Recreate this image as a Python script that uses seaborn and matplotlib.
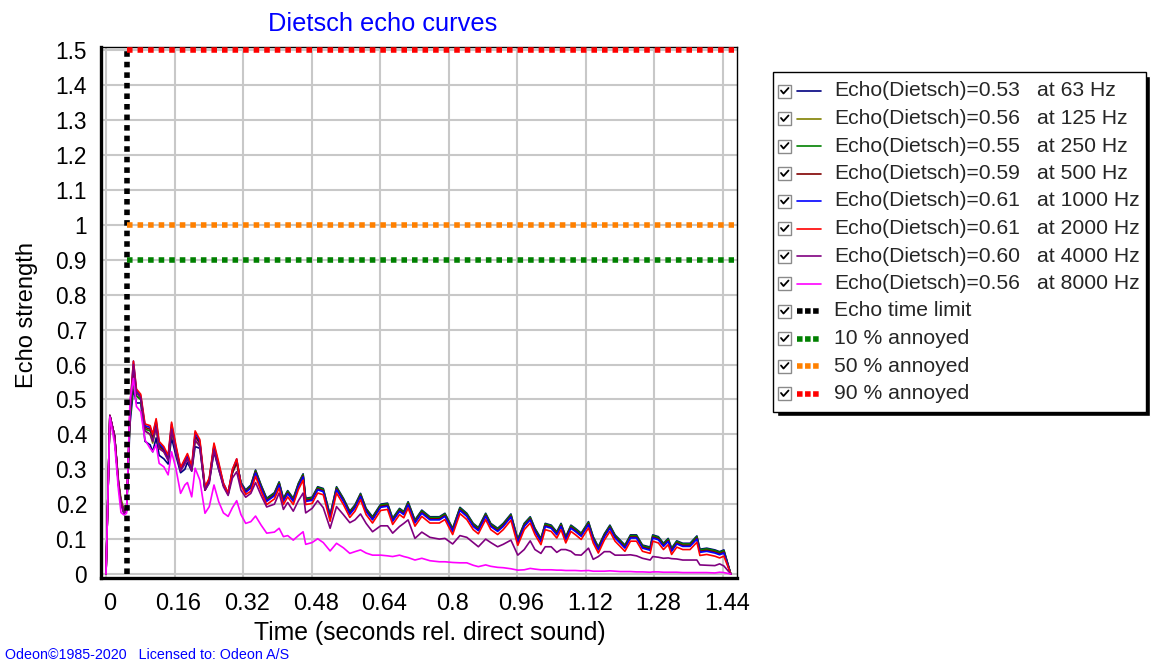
import matplotlib
matplotlib.use("Agg")
import matplotlib.pyplot as plt
import matplotlib.transforms as mtransforms
import pandas as pd
import seaborn as sns
from matplotlib.patches import Rectangle
from matplotlib.ticker import MultipleLocator

# Time axis (seconds rel. direct sound), shared by all eight octave-band curves
TIME = [0.000, 0.009, 0.020, 0.029, 0.035, 0.042, 0.048, 0.056, 0.064, 0.071,
        0.081, 0.091, 0.103, 0.109, 0.117, 0.124, 0.135, 0.145, 0.153, 0.163,
        0.174, 0.184, 0.190, 0.200, 0.208, 0.219, 0.231, 0.241, 0.252, 0.263,
        0.274, 0.285, 0.295, 0.305, 0.315, 0.326, 0.338, 0.349, 0.362, 0.375,
        0.393, 0.404, 0.414, 0.424, 0.437, 0.449, 0.460, 0.466, 0.481, 0.494,
        0.507, 0.523, 0.538, 0.554, 0.569, 0.581, 0.594, 0.607, 0.622, 0.641,
        0.657, 0.669, 0.685, 0.695, 0.705, 0.721, 0.737, 0.756, 0.778, 0.791,
        0.809, 0.826, 0.842, 0.857, 0.869, 0.886, 0.898, 0.914, 0.927, 0.945,
        0.961, 0.976, 0.990, 1.001, 1.015, 1.025, 1.039, 1.052, 1.062, 1.073,
        1.085, 1.095, 1.109, 1.126, 1.137, 1.149, 1.163, 1.176, 1.188, 1.200,
        1.211, 1.224, 1.238, 1.252, 1.270, 1.276, 1.289, 1.301, 1.312, 1.320,
        1.332, 1.346, 1.363, 1.379, 1.386, 1.402, 1.421, 1.432, 1.442, 1.458]

ECHO_63 = [0.000, 0.454, 0.395, 0.255, 0.200, 0.172, 0.180, 0.430, 0.530, 0.490,
           0.490, 0.380, 0.370, 0.350, 0.390, 0.340, 0.330, 0.315, 0.390, 0.340,
           0.290, 0.300, 0.320, 0.295, 0.365, 0.360, 0.240, 0.265, 0.350, 0.300,
           0.255, 0.230, 0.290, 0.320, 0.262, 0.241, 0.255, 0.298, 0.255, 0.217,
           0.233, 0.264, 0.217, 0.239, 0.217, 0.260, 0.287, 0.217, 0.220, 0.250,
           0.245, 0.169, 0.250, 0.217, 0.180, 0.198, 0.231, 0.188, 0.164, 0.200,
           0.203, 0.160, 0.188, 0.179, 0.207, 0.155, 0.183, 0.164, 0.164, 0.174,
           0.131, 0.191, 0.174, 0.145, 0.133, 0.174, 0.145, 0.131, 0.145, 0.172,
           0.100, 0.145, 0.164, 0.131, 0.102, 0.145, 0.140, 0.121, 0.145, 0.107,
           0.140, 0.131, 0.117, 0.150, 0.107, 0.078, 0.115, 0.140, 0.112, 0.097,
           0.083, 0.112, 0.112, 0.083, 0.077, 0.112, 0.107, 0.088, 0.102, 0.074,
           0.095, 0.088, 0.088, 0.109, 0.071, 0.074, 0.069, 0.064, 0.069, 0.000]

ECHO_125 = [0.000, 0.454, 0.395, 0.270, 0.215, 0.185, 0.185, 0.450, 0.560, 0.510,
            0.500, 0.410, 0.400, 0.375, 0.420, 0.360, 0.350, 0.330, 0.410, 0.355,
            0.300, 0.320, 0.330, 0.300, 0.380, 0.370, 0.245, 0.270, 0.360, 0.310,
            0.255, 0.230, 0.290, 0.320, 0.260, 0.238, 0.250, 0.293, 0.250, 0.212,
            0.228, 0.259, 0.212, 0.234, 0.212, 0.255, 0.282, 0.212, 0.215, 0.245,
            0.240, 0.164, 0.245, 0.212, 0.175, 0.193, 0.226, 0.183, 0.159, 0.195,
            0.198, 0.155, 0.183, 0.174, 0.202, 0.150, 0.178, 0.159, 0.159, 0.169,
            0.126, 0.186, 0.169, 0.140, 0.128, 0.169, 0.140, 0.126, 0.140, 0.167,
            0.095, 0.140, 0.159, 0.126, 0.097, 0.140, 0.135, 0.116, 0.140, 0.102,
            0.135, 0.126, 0.112, 0.145, 0.102, 0.073, 0.110, 0.135, 0.107, 0.092,
            0.078, 0.107, 0.107, 0.078, 0.072, 0.107, 0.102, 0.083, 0.097, 0.069,
            0.090, 0.083, 0.083, 0.104, 0.066, 0.069, 0.064, 0.059, 0.064, 0.000]

ECHO_250 = [0.000, 0.454, 0.395, 0.262, 0.207, 0.178, 0.183, 0.450, 0.550, 0.510,
            0.500, 0.415, 0.410, 0.390, 0.430, 0.365, 0.355, 0.330, 0.420, 0.360,
            0.300, 0.320, 0.335, 0.300, 0.395, 0.375, 0.245, 0.270, 0.365, 0.310,
            0.255, 0.230, 0.295, 0.325, 0.260, 0.238, 0.253, 0.296, 0.253, 0.215,
            0.231, 0.262, 0.215, 0.237, 0.215, 0.258, 0.285, 0.215, 0.218, 0.248,
            0.243, 0.167, 0.248, 0.215, 0.178, 0.196, 0.229, 0.186, 0.162, 0.198,
            0.201, 0.158, 0.186, 0.177, 0.205, 0.153, 0.181, 0.162, 0.162, 0.172,
            0.129, 0.189, 0.172, 0.143, 0.131, 0.172, 0.143, 0.129, 0.143, 0.170,
            0.098, 0.143, 0.162, 0.129, 0.100, 0.143, 0.138, 0.119, 0.143, 0.105,
            0.138, 0.129, 0.115, 0.148, 0.105, 0.076, 0.113, 0.138, 0.110, 0.095,
            0.081, 0.110, 0.110, 0.081, 0.075, 0.110, 0.105, 0.086, 0.100, 0.072,
            0.093, 0.086, 0.086, 0.107, 0.069, 0.072, 0.067, 0.062, 0.067, 0.000]

ECHO_500 = [0.000, 0.454, 0.395, 0.260, 0.205, 0.176, 0.183, 0.460, 0.590, 0.520,
            0.505, 0.420, 0.415, 0.395, 0.435, 0.370, 0.355, 0.330, 0.420, 0.360,
            0.300, 0.320, 0.335, 0.300, 0.395, 0.375, 0.240, 0.268, 0.365, 0.310,
            0.255, 0.228, 0.290, 0.320, 0.258, 0.236, 0.249, 0.292, 0.249, 0.211,
            0.227, 0.258, 0.211, 0.233, 0.211, 0.254, 0.281, 0.211, 0.214, 0.244,
            0.239, 0.163, 0.244, 0.211, 0.174, 0.192, 0.225, 0.182, 0.158, 0.194,
            0.197, 0.154, 0.182, 0.173, 0.201, 0.149, 0.177, 0.158, 0.158, 0.168,
            0.125, 0.185, 0.168, 0.139, 0.127, 0.168, 0.139, 0.125, 0.139, 0.166,
            0.094, 0.139, 0.158, 0.125, 0.096, 0.139, 0.134, 0.115, 0.139, 0.101,
            0.134, 0.125, 0.111, 0.144, 0.101, 0.072, 0.109, 0.134, 0.106, 0.091,
            0.077, 0.106, 0.106, 0.077, 0.071, 0.106, 0.101, 0.082, 0.096, 0.068,
            0.089, 0.082, 0.082, 0.103, 0.065, 0.068, 0.063, 0.058, 0.063, 0.000]

ECHO_1000 = [0.000, 0.454, 0.395, 0.260, 0.205, 0.176, 0.183, 0.470, 0.610, 0.525,
             0.510, 0.425, 0.420, 0.400, 0.440, 0.374, 0.360, 0.336, 0.430, 0.365,
             0.303, 0.327, 0.340, 0.305, 0.405, 0.380, 0.245, 0.271, 0.370, 0.315,
             0.260, 0.232, 0.298, 0.329, 0.258, 0.234, 0.246, 0.289, 0.246, 0.208,
             0.224, 0.255, 0.208, 0.230, 0.208, 0.251, 0.278, 0.208, 0.211, 0.241,
             0.236, 0.160, 0.241, 0.208, 0.171, 0.189, 0.222, 0.179, 0.155, 0.191,
             0.194, 0.151, 0.179, 0.170, 0.198, 0.146, 0.174, 0.155, 0.155, 0.165,
             0.122, 0.182, 0.165, 0.136, 0.124, 0.165, 0.136, 0.122, 0.136, 0.163,
             0.091, 0.136, 0.155, 0.122, 0.093, 0.136, 0.131, 0.112, 0.136, 0.098,
             0.131, 0.122, 0.108, 0.141, 0.098, 0.069, 0.106, 0.131, 0.103, 0.088,
             0.074, 0.103, 0.103, 0.074, 0.068, 0.103, 0.098, 0.079, 0.093, 0.065,
             0.086, 0.079, 0.079, 0.100, 0.062, 0.065, 0.060, 0.055, 0.060, 0.000]

ECHO_2000 = [0.000, 0.454, 0.395, 0.260, 0.205, 0.176, 0.183, 0.480, 0.610, 0.530,
             0.515, 0.430, 0.425, 0.400, 0.445, 0.380, 0.365, 0.340, 0.435, 0.370,
             0.305, 0.330, 0.345, 0.310, 0.410, 0.385, 0.250, 0.275, 0.375, 0.320,
             0.260, 0.232, 0.300, 0.330, 0.255, 0.228, 0.237, 0.280, 0.237, 0.199,
             0.215, 0.246, 0.199, 0.221, 0.199, 0.242, 0.269, 0.199, 0.202, 0.232,
             0.227, 0.151, 0.232, 0.199, 0.162, 0.180, 0.213, 0.170, 0.146, 0.182,
             0.185, 0.142, 0.170, 0.161, 0.189, 0.137, 0.165, 0.146, 0.146, 0.156,
             0.113, 0.173, 0.156, 0.127, 0.115, 0.156, 0.127, 0.113, 0.127, 0.154,
             0.082, 0.127, 0.146, 0.113, 0.084, 0.127, 0.122, 0.103, 0.127, 0.089,
             0.122, 0.113, 0.099, 0.132, 0.089, 0.060, 0.097, 0.122, 0.094, 0.079,
             0.065, 0.094, 0.094, 0.065, 0.059, 0.094, 0.089, 0.070, 0.084, 0.056,
             0.077, 0.070, 0.070, 0.091, 0.053, 0.056, 0.051, 0.046, 0.051, 0.000]

ECHO_4000 = [0.000, 0.454, 0.395, 0.260, 0.205, 0.176, 0.183, 0.460, 0.600, 0.520,
             0.505, 0.410, 0.400, 0.380, 0.420, 0.360, 0.350, 0.325, 0.415, 0.350,
             0.295, 0.315, 0.330, 0.295, 0.385, 0.365, 0.240, 0.260, 0.355, 0.300,
             0.250, 0.225, 0.275, 0.293, 0.240, 0.220, 0.231, 0.262, 0.225, 0.192,
             0.200, 0.232, 0.185, 0.205, 0.180, 0.210, 0.232, 0.175, 0.188, 0.210,
             0.190, 0.131, 0.193, 0.170, 0.147, 0.155, 0.172, 0.145, 0.121, 0.138,
             0.138, 0.117, 0.136, 0.145, 0.155, 0.102, 0.120, 0.105, 0.100, 0.102,
             0.086, 0.110, 0.105, 0.090, 0.078, 0.100, 0.090, 0.078, 0.085, 0.097,
             0.054, 0.070, 0.095, 0.070, 0.059, 0.078, 0.078, 0.062, 0.070, 0.070,
             0.065, 0.055, 0.054, 0.074, 0.042, 0.050, 0.064, 0.064, 0.054, 0.054,
             0.054, 0.055, 0.052, 0.045, 0.040, 0.050, 0.048, 0.045, 0.046, 0.044,
             0.043, 0.040, 0.040, 0.040, 0.026, 0.025, 0.024, 0.029, 0.023, 0.000]

ECHO_8000 = [0.000, 0.450, 0.374, 0.241, 0.176, 0.169, 0.174, 0.500, 0.560, 0.480,
             0.465, 0.384, 0.360, 0.350, 0.370, 0.317, 0.307, 0.284, 0.350, 0.303,
             0.231, 0.255, 0.262, 0.221, 0.303, 0.269, 0.174, 0.193, 0.255, 0.207,
             0.175, 0.165, 0.190, 0.210, 0.170, 0.145, 0.150, 0.166, 0.140, 0.117,
             0.120, 0.131, 0.107, 0.110, 0.097, 0.110, 0.121, 0.085, 0.090, 0.101,
             0.090, 0.066, 0.088, 0.075, 0.059, 0.064, 0.069, 0.060, 0.054, 0.054,
             0.052, 0.050, 0.054, 0.050, 0.047, 0.040, 0.045, 0.038, 0.035, 0.035,
             0.033, 0.032, 0.032, 0.025, 0.021, 0.026, 0.022, 0.019, 0.018, 0.015,
             0.011, 0.012, 0.016, 0.014, 0.012, 0.012, 0.012, 0.011, 0.011, 0.010,
             0.010, 0.010, 0.009, 0.010, 0.008, 0.008, 0.008, 0.009, 0.008, 0.007,
             0.007, 0.007, 0.006, 0.006, 0.005, 0.006, 0.006, 0.005, 0.005, 0.005,
             0.005, 0.004, 0.004, 0.004, 0.004, 0.004, 0.003, 0.005, 0.004, 0.000]

FREQUENCIES = [63, 125, 250, 500, 1000, 2000, 4000, 8000]
ECHO_VALUES = [0.53, 0.56, 0.55, 0.59, 0.61, 0.61, 0.60, 0.56]
CURVE_COLORS = ["#000080", "#808000", "#008000", "#800000",
                "#0000FF", "#FF0000", "#800080", "#FF00FF"]

ECHO_TIME_LIMIT = 0.05
LIMIT_LINE_END = 1.465
ANNOYED_LEVELS = [0.9, 1.0, 1.5]
ANNOYED_LABELS = ["10 % annoyed", "50 % annoyed", "90 % annoyed"]
ANNOYED_COLORS = ["#008000", "#FF8000", "#FF0000"]

X_TICKS = [0, 0.16, 0.32, 0.48, 0.64, 0.8, 0.96, 1.12, 1.28, 1.44]
X_TICK_LABELS = ["0", "0.16", "0.32", "0.48", "0.64", "0.8", "0.96", "1.12", "1.28", "1.44"]
Y_TICKS = [0, 0.1, 0.2, 0.3, 0.4, 0.5, 0.6, 0.7, 0.8, 0.9, 1.0, 1.1, 1.2, 1.3, 1.4, 1.5]
Y_TICK_LABELS = ["0", "0.1", "0.2", "0.3", "0.4", "0.5", "0.6", "0.7", "0.8", "0.9",
                 "1", "1.1", "1.2", "1.3", "1.4", "1.5"]

W, H = 1152, 664
DOTTED = (0, (1, 0.9))


def build_frame():
    curves = [ECHO_63, ECHO_125, ECHO_250, ECHO_500,
              ECHO_1000, ECHO_2000, ECHO_4000, ECHO_8000]
    frames = []
    for freq, values in zip(FREQUENCIES, curves):
        frames.append(pd.DataFrame({"time": TIME, "echo": values, "band": f"{freq} Hz"}))
    return pd.concat(frames, ignore_index=True)


def draw_legend(fig):
    # overlay in pixel coordinates (y down) for the checkbox-style legend
    lax = fig.add_axes([0, 0, 1, 1])
    lax.set_xlim(0, W)
    lax.set_ylim(H, 0)
    lax.axis("off")
    left, top, width, height = 773, 72, 373, 340
    lax.add_patch(Rectangle((left + 4, top + 4), width, height, facecolor="black", zorder=1))
    lax.add_patch(Rectangle((left, top), width, height, facecolor="white",
                            edgecolor="black", linewidth=1, zorder=2))

    rows = []
    for freq, val, color in zip(FREQUENCIES, ECHO_VALUES, CURVE_COLORS):
        rows.append((f"Echo(Dietsch)={val:.2f}", f"at {freq} Hz", color, False))
    rows.append(("Echo time limit", "", "black", True))
    for label, color in zip(ANNOYED_LABELS, ANNOYED_COLORS):
        rows.append((label, "", color, True))

    for i, (label, freq_label, color, dotted) in enumerate(rows):
        cy = 91 + 27.5 * i
        lax.add_patch(Rectangle((778, cy - 6.5), 13, 13, facecolor="white",
                                edgecolor="#8a8a8a", linewidth=1, zorder=3))
        lax.plot([781, 783.5, 788.5], [cy - 0.5, cy + 2.5, cy - 3], color="black",
                 linewidth=1.3, zorder=4)
        if dotted:
            lax.plot([797, 821], [cy, cy], color=color, linewidth=4,
                     linestyle=(0, (1, 0.45)), zorder=4)
        else:
            lax.plot([797, 821], [cy, cy], color=color, linewidth=1.2, zorder=4)
        lax.text(834, cy, label, fontsize=15.2, va="center", ha="left", zorder=5)
        if freq_label:
            lax.text(1037, cy, freq_label, fontsize=15.2, va="center", ha="left", zorder=5)


def main():
    sns.set_theme(style="whitegrid")
    plt.rcParams["font.family"] = ["Liberation Sans", "DejaVu Sans"]

    df = build_frame()
    bands = [f"{f} Hz" for f in FREQUENCIES]

    fig = plt.figure(figsize=(W / 100, H / 100), dpi=100)
    fig.patch.set_facecolor("white")
    ax = fig.add_axes([101 / W, 1 - 578 / H, 636 / W, 531 / H])
    ax.set_facecolor("white")

    sns.lineplot(data=df, x="time", y="echo", hue="band", hue_order=bands,
                 palette=dict(zip(bands, CURVE_COLORS)), estimator=None,
                 sort=False, linewidth=1.2, legend=False, ax=ax)

    ax.plot([ECHO_TIME_LIMIT, ECHO_TIME_LIMIT], [0, ANNOYED_LEVELS[-1]], color="black",
            linewidth=4, linestyle=DOTTED, zorder=5)
    for level, color in zip(ANNOYED_LEVELS, ANNOYED_COLORS):
        ax.plot([ECHO_TIME_LIMIT, LIMIT_LINE_END], [level, level], color=color,
                linewidth=4, linestyle=DOTTED, zorder=5)

    ax.set_xlim(-0.0117, 1.4726)
    ax.set_ylim(-0.0115, 1.510)
    ax.set_xticks(X_TICKS, labels=X_TICK_LABELS)
    ax.set_yticks(Y_TICKS, labels=Y_TICK_LABELS)
    ax.xaxis.set_minor_locator(MultipleLocator(0.04))
    ax.yaxis.set_minor_locator(MultipleLocator(0.02))
    ax.grid(which="major", color="#c8c8c8", linewidth=1.5)
    ax.grid(which="minor", visible=False)
    ax.tick_params(which="major", direction="out", length=6, width=1, color="#404040",
                   labelcolor="black", pad=4)
    ax.tick_params(which="minor", direction="out", length=3.5, width=1, color="#404040")
    ax.tick_params(axis="y", which="major", labelsize=16.3)
    ax.tick_params(axis="x", which="major", labelsize=17, pad=5)

    # Odeon draws the time labels a few pixels right of their ticks
    shift = mtransforms.ScaledTranslation(4 / 100, 0, fig.dpi_scale_trans)
    for label in ax.get_xticklabels():
        label.set_transform(label.get_transform() + shift)

    for side in ["left", "bottom"]:
        ax.spines[side].set_linewidth(2.4)
        ax.spines[side].set_color("black")
    for side in ["top", "right"]:
        ax.spines[side].set_linewidth(1)
        ax.spines[side].set_color("black")

    ax.set_xlabel("Time (seconds rel. direct sound)", fontsize=17.8, color="black", va="center")
    ax.xaxis.set_label_coords((430 - 101) / 636, (578 - 633) / 531)
    ax.set_ylabel("Echo strength", fontsize=17, color="black", va="center")
    ax.yaxis.set_label_coords((27 - 101) / 636, (578 - 315) / 531)

    fig.text(383 / W, 1 - 24 / H, "Dietsch echo curves", color="#0000FF",
             fontsize=18.3, ha="center", va="center")
    fig.text(5 / W, 1 - 655 / H, "Odeon\u00a91985-2020   Licensed to: Odeon A/S",
             color="#0000FF", fontsize=10.3, ha="left", va="center")

    draw_legend(fig)
    fig.savefig("out.png", dpi=100, facecolor="white")


if __name__ == "__main__":
    main()
